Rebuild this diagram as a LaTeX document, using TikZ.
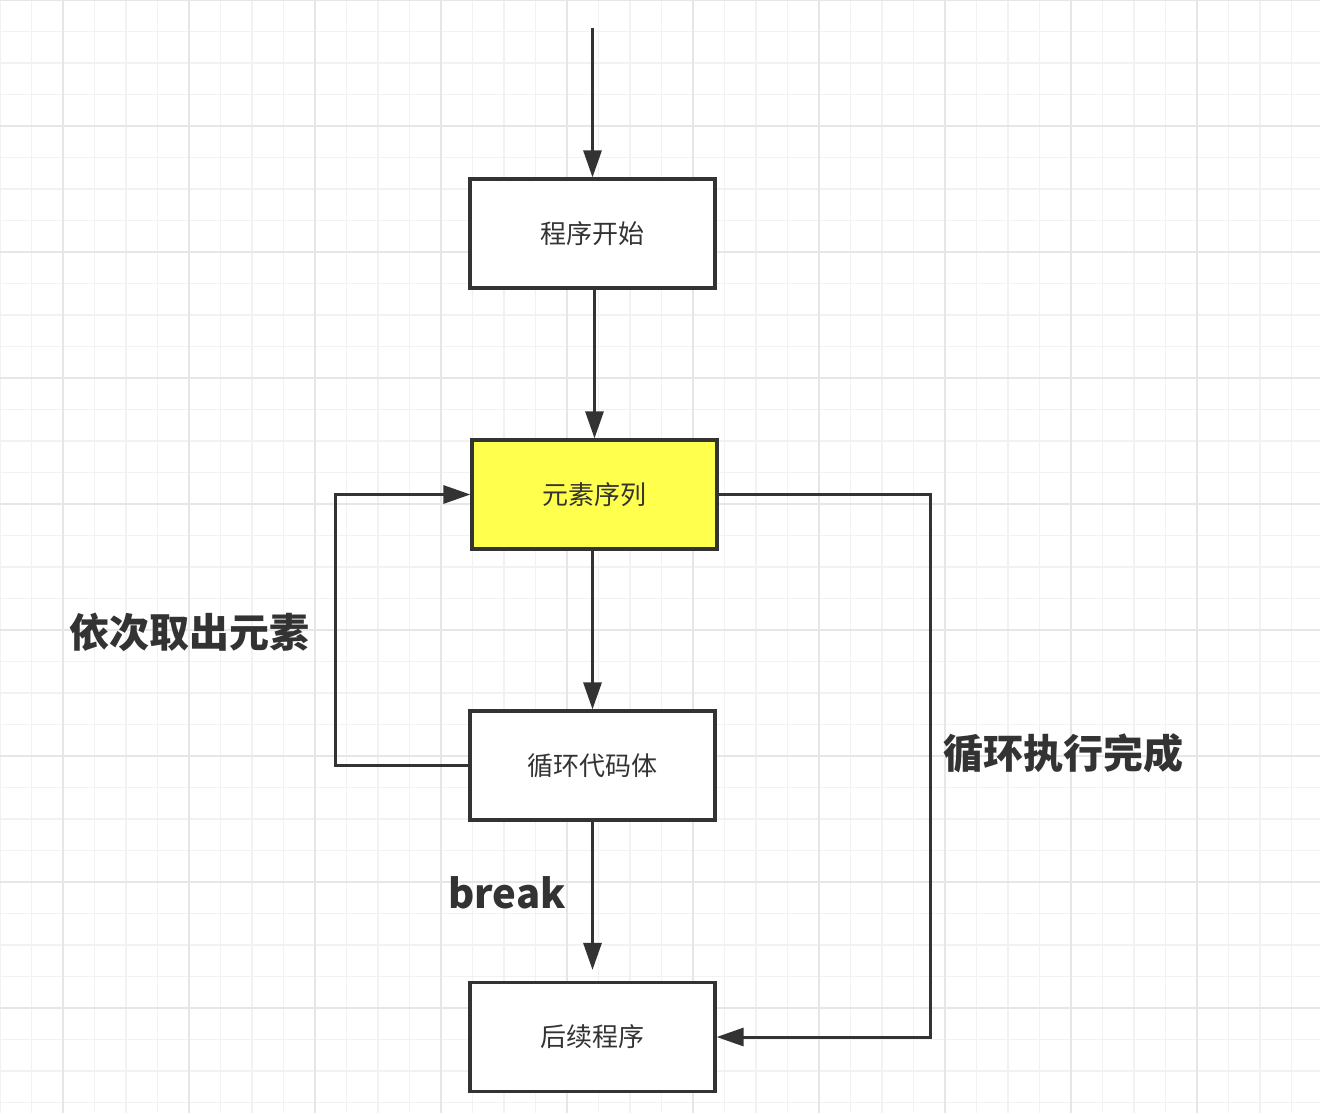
\documentclass[tikz,border=0pt]{standalone}
\usepackage{fontspec}
\setmainfont{Noto Sans CJK SC}
\usepackage{xcolor}
\usepackage{tikz}
\usetikzlibrary{arrows.meta,positioning}
\definecolor{inkgray}{RGB}{51, 51, 51}
\definecolor{seqyellow}{RGB}{255, 255, 77}
\definecolor{gridminor}{RGB}{242, 242, 242}
\definecolor{gridmajor}{RGB}{230, 230, 230}

\tikzset{
    flowbox/.style={draw=inkgray, line width=1.6pt, fill=white, minimum width=122.5pt, minimum height=54.5pt, inner sep=0pt, font=\fontsize{13}{15}\selectfont, text=inkgray},
    flowarrow/.style={draw=inkgray, line width=1.5pt, -{Triangle[length=13.5pt, width=9pt]}},
    biglabel/.style={font=\fontsize{20}{24}\selectfont\bfseries, text=inkgray}
}

\begin{document}
\begin{tikzpicture}[x=0.5pt, y=-0.5pt]
    \useasboundingbox (0,0) rectangle (1320,1113);
    \fill[white] (0,0) rectangle (1320,1113);

    % background grid
    \foreach \i in {0,...,41} \draw[gridminor, line width=0.9pt] (\i*31.5,0) -- (\i*31.5,1113);
    \foreach \j in {0,...,35} \draw[gridminor, line width=0.9pt] (0,\j*31.5) -- (1320,\j*31.5);
    \foreach \i in {2,6,...,42} \draw[gridmajor, line width=1.1pt] (\i*31.5,0) -- (\i*31.5,1113);
    \foreach \j in {0,4,...,32} \draw[gridmajor, line width=1.1pt] (0,\j*31.5) -- (1320,\j*31.5);

    % boxes
    \node[flowbox] (start) at (592.5, 233.5) {程序开始};
    \node[flowbox, fill=seqyellow] (seq) at (594.5, 494.5) {元素序列};
    \node[flowbox] (body) at (592.5, 765.5) {循环代码体};
    \node[flowbox] (after) at (592.5, 1037) {后续程序};
    \coordinate (entry) at (592.5, 28);

    % labels
    \node[biglabel] (takelbl) at (189, 632) {依次取出元素};
    \node[biglabel] (donelbl) at (1063, 753) {循环执行完成};
    \node[biglabel] (breaklbl) at (507, 893) {break};

    % connectors
    \draw[flowarrow] (entry) -- (start.north);
    \draw[flowarrow] (seq.north |- start.south) -- (seq.north);
    \draw[flowarrow] (body.north |- seq.south) -- (body.north);
    \draw[flowarrow, shorten >=5.5pt] (body.south) -- (after.north);
    \draw[flowarrow] (body.west) -- ++(-133,0) |- (seq.west);
    \draw[flowarrow] (seq.east) -- ++(212,0) |- (after.east);
\end{tikzpicture}
\end{document}
